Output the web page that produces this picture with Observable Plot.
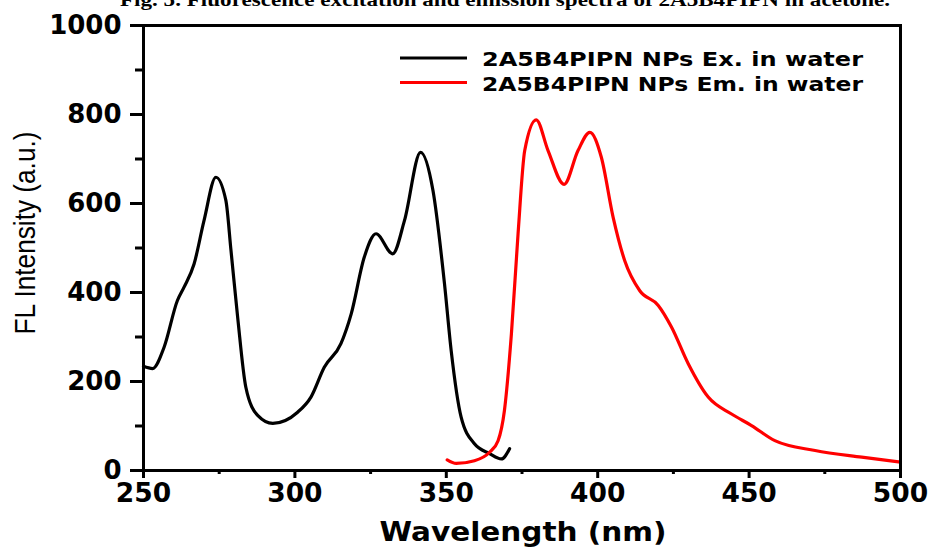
<!DOCTYPE html>
<html>
<head>
<meta charset="utf-8">
<script src="https://cdn.jsdelivr.net/npm/d3@7"></script>
<script src="https://cdn.jsdelivr.net/npm/@observablehq/plot@0.6"></script>
<style>
  html, body { margin: 0; padding: 0; background: #fff; overflow: hidden; }
  #chart { position: relative; width: 933px; height: 551px; }
</style>
</head>
<body>
<div id="chart"></div>
<script>
// Excitation spectrum (black)
const exWavelength = [250, 253.0, 256.8, 261.2, 263.4, 266.7, 270.0, 273.9, 277.2, 278.9, 281.1, 283.8, 287.7, 292.7, 300.9, 305.3, 309.7, 315.2, 318.6, 322.9, 326.8, 332.3, 336.2, 341.5, 345.6, 349.4, 351.6, 354.9, 359.3, 364.3, 368.2, 370.9];
const exIntensity  = [234, 229, 277, 382, 412, 464, 562, 659, 607, 494, 344, 187, 124, 106, 131, 165, 232, 285, 352, 479, 532, 487, 562, 715, 629, 420, 270, 120, 60, 38, 26, 49];

// Emission spectrum (red)
const emWavelength = [350.3, 353.3, 359.3, 364.3, 367.1, 369.2, 371.5, 373.7, 375.9, 379.7, 383.6, 388.9, 393.5, 397.4, 401.2, 405.1, 408.9, 413.9, 420.0, 424.4, 429.9, 436.5, 444.2, 450.8, 458.5, 471.8, 487.2, 500];
const emIntensity  = [24, 16, 22, 41, 67, 135, 307, 532, 719, 788, 719, 643, 719, 760, 704, 569, 472, 404, 371, 322, 240, 165, 127, 101, 67, 45, 30, 19];

const xTicks = [250, 300, 350, 400, 450, 500];
const xMinorTicks = [275, 325, 375, 425, 475];
const yTicks = [0, 200, 400, 600, 800, 1000];
const yMinorTicks = [100, 300, 500, 700, 900];

const seriesNames = ["2A5B4PIPN NPs Ex. in water", "2A5B4PIPN NPs Em. in water"];
const seriesColors = ["#000000", "#ff0000"];
const caption = "Fig. 5. Fluorescence excitation and emission spectra of 2A5B4PIPN in acetone.";
const xLabel = "Wavelength (nm)";
const yLabel = "FL Intensity (a.u.)";

const exData = exWavelength.map((w, i) => ({w, v: exIntensity[i]}));
const emData = emWavelength.map((w, i) => ({w, v: emIntensity[i]}));

const plot = Plot.plot({
  width: 933,
  height: 551,
  marginLeft: 143,
  marginRight: 33,
  marginTop: 25,
  marginBottom: 81,
  style: {fontFamily: "DejaVu Sans", fontWeight: "bold", fontSize: "26px", background: "white", color: "black"},
  x: {domain: [250, 500]},
  y: {domain: [0, 1000]},
  marks: [
    Plot.axisY({ticks: yMinorTicks, tickSize: 8, text: null, label: null, strokeWidth: 3}),
    Plot.axisY({ticks: yTicks, tickSize: 13, tickPadding: 9, tickFormat: d => String(d), label: null, strokeWidth: 3, fontSize: 26, fontWeight: "bold"}),
    Plot.axisX({ticks: xMinorTicks, tickSize: 4, text: null, label: null, strokeWidth: 3}),
    Plot.axisX({ticks: xTicks, tickSize: 8, tickPadding: 5, tickFormat: d => String(d), label: null, strokeWidth: 3, fontSize: 26.5, fontWeight: "bold"}),
    Plot.line(exData, {x: "w", y: "v", curve: "monotone-x", stroke: seriesColors[0], strokeWidth: 3.2}),
    Plot.line(emData, {x: "w", y: "v", curve: "monotone-x", stroke: seriesColors[1], strokeWidth: 3.2}),
    Plot.frame({stroke: "black", strokeWidth: 3})
  ]
});

document.getElementById("chart").appendChild(plot);

const svg = d3.select(plot);

// caption (clipped at top, as in the reference)
svg.append("text")
  .attr("x", 120).attr("y", 6)
  .attr("text-anchor", "start")
  .attr("font-family", "Liberation Serif").attr("font-weight", "bold").attr("font-size", 18)
  .attr("textLength", 770).attr("lengthAdjust", "spacingAndGlyphs")
  .text(caption);

// x label
svg.append("text")
  .attr("x", 523).attr("y", 541)
  .attr("text-anchor", "middle")
  .attr("font-family", "DejaVu Sans").attr("font-weight", "bold").attr("font-size", 27)
  .attr("textLength", 287).attr("lengthAdjust", "spacingAndGlyphs")
  .text(xLabel);

// y label
svg.append("text")
  .attr("transform", "translate(35,233) rotate(-90)")
  .attr("text-anchor", "middle")
  .attr("font-family", "Liberation Sans").attr("font-weight", "normal").attr("font-size", 30)
  .attr("textLength", 203).attr("lengthAdjust", "spacingAndGlyphs")
  .text(yLabel);

// legend
const legend = svg.append("g");
seriesNames.forEach((name, i) => {
  const cy = 58 + i * 24.5;
  legend.append("line")
    .attr("x1", 400).attr("x2", 467).attr("y1", cy).attr("y2", cy)
    .attr("stroke", seriesColors[i]).attr("stroke-width", 3);
  legend.append("text")
    .attr("x", 482).attr("y", cy + 8)
    .attr("text-anchor", "start")
    .attr("font-family", "DejaVu Sans").attr("font-weight", "bold").attr("font-size", 20)
    .attr("textLength", 381).attr("lengthAdjust", "spacingAndGlyphs")
    .attr("fill", "black")
    .text(name);
});
</script>
</body>
</html>
